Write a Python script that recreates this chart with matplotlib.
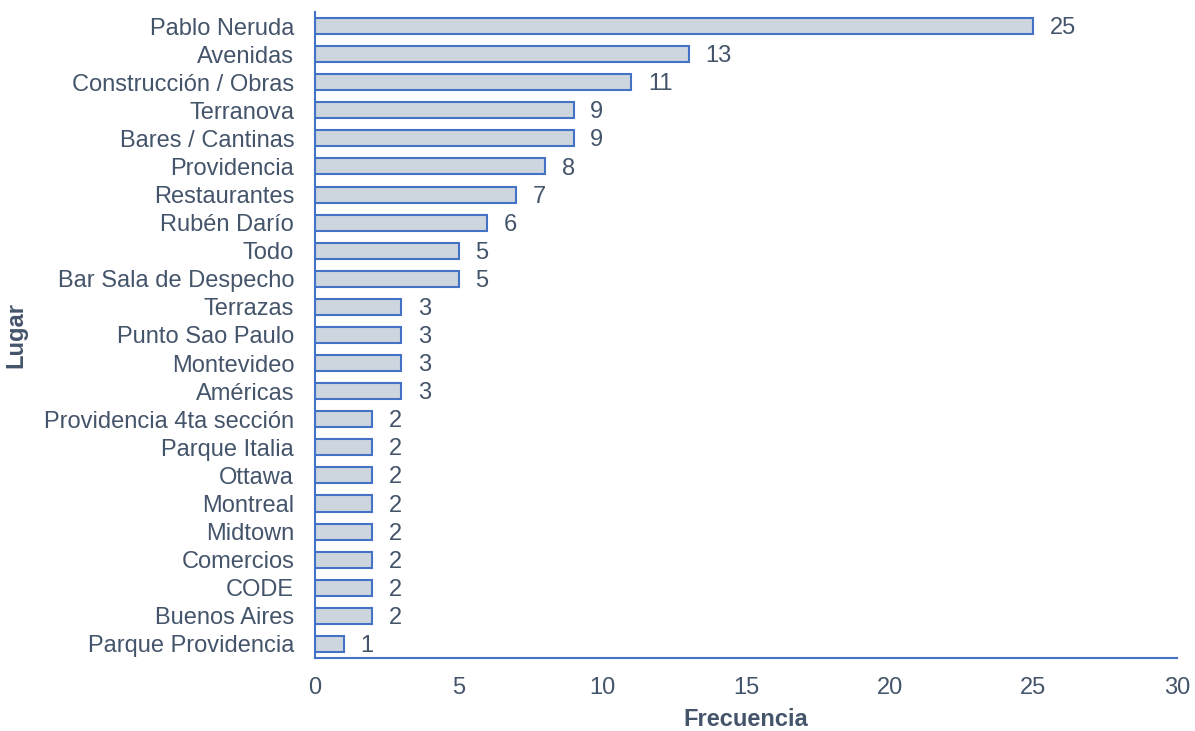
import matplotlib
matplotlib.use("Agg")
import matplotlib.pyplot as plt

lugares = ["Pablo Neruda", "Avenidas", "Construcción / Obras", "Terranova",
           "Bares / Cantinas", "Providencia", "Restaurantes", "Rubén Darío",
           "Todo", "Bar Sala de Despecho", "Terrazas", "Punto Sao Paulo",
           "Montevideo", "Américas", "Providencia 4ta sección", "Parque Italia",
           "Ottawa", "Montreal", "Midtown", "Comercios", "CODE", "Buenos Aires",
           "Parque Providencia"]
frecuencia = [25, 13, 11, 9, 9, 8, 7, 6, 5, 5, 3, 3, 3, 3, 2, 2, 2, 2, 2, 2, 2, 2, 1]

text_color = "#44546A"
edge_color = "#4472C4"
fill_color = "#CDD5DF"

plt.rcParams["font.family"] = ["Liberation Sans", "DejaVu Sans"]

fig = plt.figure(figsize=(11.95, 7.31), dpi=100)
ax = fig.add_axes([0.2636, 0.0999, 0.7214, 0.8837])

y = list(range(len(lugares)))
ax.barh(y, frecuencia, height=0.57, color=fill_color,
        edgecolor=edge_color, linewidth=1.5)

# etiquetas de valor
for yi, v in zip(y, frecuencia):
    ax.annotate(str(v), xy=(v, yi), xytext=(12, -1.5), textcoords="offset points",
                ha="left", va="center", fontsize=17, color=text_color)

ax.set_yticks(y)
ax.set_yticklabels(lugares)
ax.set_ylim(len(lugares) - 0.5, -0.5)
ax.set_xlim(0, 30)
ax.set_xticks([0, 5, 10, 15, 20, 25, 30])

for s in ["top", "right"]:
    ax.spines[s].set_visible(False)
for s in ["left", "bottom"]:
    ax.spines[s].set_color(edge_color)
    ax.spines[s].set_linewidth(1.5)

ax.tick_params(axis="both", length=0, labelsize=17, labelcolor=text_color)
ax.tick_params(axis="x", pad=14)
ax.tick_params(axis="y", pad=15)

ax.set_xlabel("Frecuencia", fontsize=17, fontweight="bold", color=text_color, labelpad=6)
ax.set_ylabel("Lugar", fontsize=17, fontweight="bold", color=text_color, labelpad=12)

fig.savefig("out.png", dpi=100)
